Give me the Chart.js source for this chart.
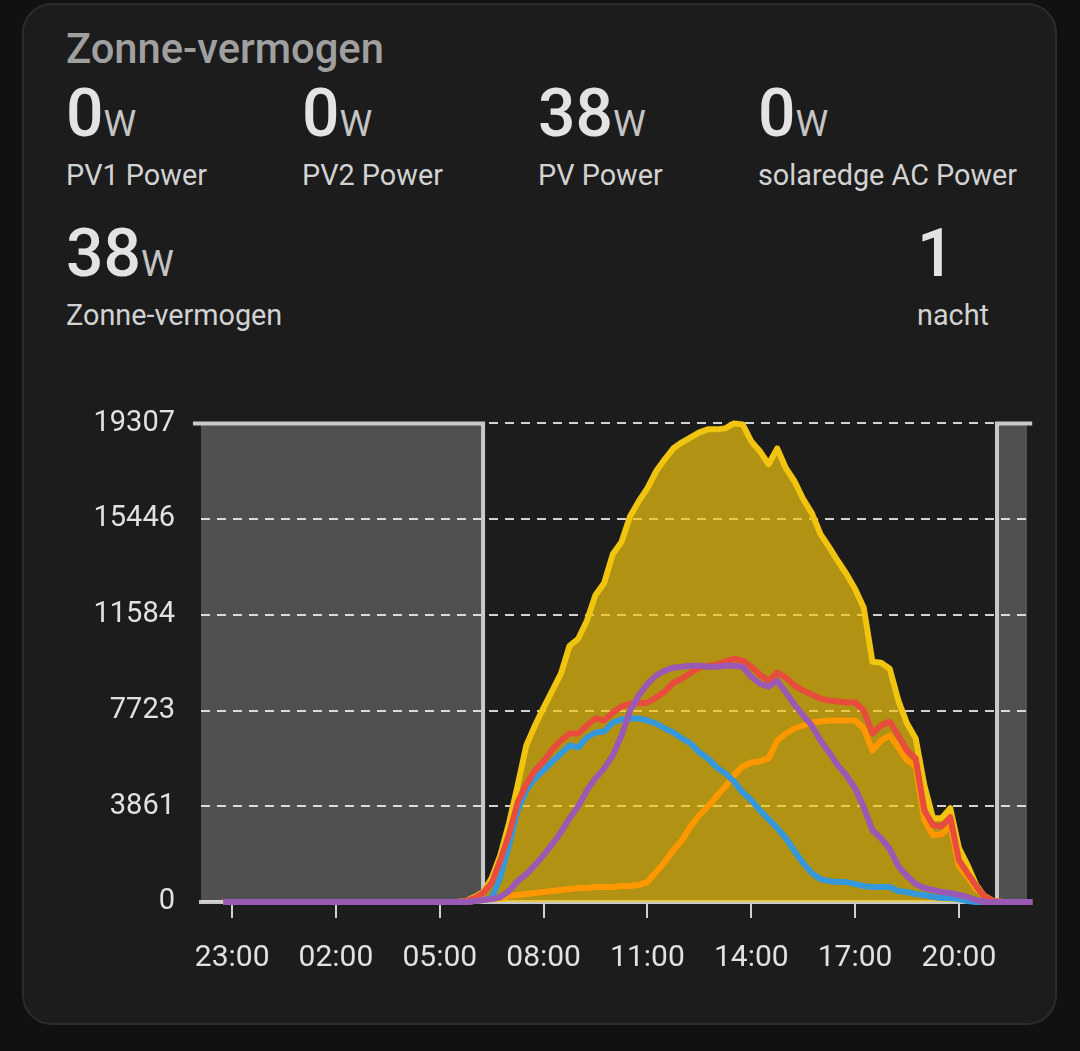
<!DOCTYPE html>
<html>
<head>
<meta charset="utf-8">
<script src="https://cdn.jsdelivr.net/npm/chart.js@4.4.1/dist/chart.umd.min.js"></script>
<style>
  html, body { margin: 0; padding: 0; background: #111111; width: 1080px; height: 1051px; overflow: hidden; font-family: Roboto, "Noto Sans", sans-serif; }
  .card { position: absolute; left: 22px; top: 3px; width: 1031px; height: 1018px; background: #1c1c1c; border: 2px solid #2c2c2c; border-radius: 30px; }
  .t { position: absolute; white-space: nowrap; line-height: 1; }
  .title { left: 66px; top: 28px; font-size: 41.7px; font-weight: 500; color: #a0a0a0; }
  .val { font-size: 66px; font-weight: 500; color: #e3e3e3; }
  .unit { font-size: 37px; font-weight: 400; color: #c4c4c4; }
  .lab { font-size: 28.8px; color: #d2d2d2; }
  #wrap { position: absolute; left: 40px; top: 380px; width: 1010px; height: 620px; }
</style>
</head>
<body>
<div class="card"></div>
<div class="t title">Zonne-vermogen</div>
<div id="states"></div>
<div id="wrap"><canvas id="c"></canvas></div>
<script>
// ---- header states ----
const stateNames  = ['PV1 Power', 'PV2 Power', 'PV Power', 'solaredge AC Power', 'Zonne-vermogen', 'nacht'];
const stateValues = ['0', '0', '38', '0', '38', '1'];
const stateUnits  = ['W', 'W', 'W', 'W', 'W', ''];

// ---- chart data ----
const axisRange = ['22:06', '21:58'];
const tickLabels = ['23:00', '02:00', '05:00', '08:00', '11:00', '14:00', '17:00', '20:00'];
const yTicks = [0, 3861, 7723, 11584, 15446, 19307];
const yMax = 19307;

const times = ['22:45',
  '05:30','05:45','06:00','06:15','06:30','06:45','07:00','07:15','07:30','07:45',
  '08:00','08:15','08:30','08:45','09:00','09:15','09:30','09:45','10:00','10:15',
  '10:30','10:45','11:00','11:15','11:30','11:45','12:00','12:15','12:30','12:45',
  '13:00','13:15','13:30','13:45','14:00','14:15','14:30','14:45','15:00','15:15',
  '15:30','15:45','16:00','16:15','16:30','16:45','17:00','17:15','17:30','17:45',
  '18:00','18:15','18:30','18:45','19:00','19:15','19:30','19:45','20:00','20:15',
  '20:30','20:45','21:00','21:15',
  '22:07'];

const zonneVermogen = [0,
  0,40,200,400,965,1890,3178,4706,6315,7119,
  7843,8527,9211,10337,10619,11343,12389,12871,14038,14520,
  15566,16170,16693,17376,17859,18301,18543,18744,18945,19066,
  19066,19106,19307,19267,18583,18181,17658,18301,17497,16974,
  16250,15687,14842,14319,13756,13233,12630,11866,9694,9654,
  9412,8125,7200,6597,4706,3379,3379,3781,2172,1488,
  684,201,40,0,
  0];

const pvPower = [0,
  0,40,160,360,764,1689,2735,4022,4746,5309,
  5671,6154,6516,6798,6798,7119,7401,7320,7642,7884,
  8004,8004,8045,8246,8487,8849,9010,9251,9452,9533,
  9573,9694,9814,9734,9493,9171,8930,9251,9050,8728,
  8527,8366,8206,8125,8085,8045,8045,7723,6798,7119,
  7280,6717,6114,5792,3700,3097,3057,3419,1689,1166,
  644,201,40,0,
  0];

const pv1Power = [0,
  0,20,40,80,160,1006,2293,3700,4505,4988,
  5309,5671,5993,6315,6235,6637,6838,6878,7240,7361,
  7401,7401,7320,7200,6999,6838,6597,6395,6033,5792,
  5430,5189,4867,4425,4103,3700,3339,2977,2574,2051,
  1569,1166,925,845,804,804,724,644,603,603,
  603,442,402,322,282,201,161,161,120,40,
  0,0,0,0,
  0];

const pv2Power = [0,
  0,0,40,80,120,161,241,282,322,362,
  402,442,483,523,563,563,603,603,603,644,
  644,684,804,1207,1609,2092,2494,3057,3499,3861,
  4264,4666,5108,5470,5631,5671,5792,6516,6798,6999,
  7119,7240,7280,7320,7320,7320,7320,6999,6114,6516,
  6717,6235,5712,5470,3298,2695,2735,3097,1448,1006,
  523,241,40,0,
  0];

const acPower = [0,
  0,0,40,80,120,201,442,845,1126,1488,
  1890,2333,2816,3379,3861,4505,4988,5390,5913,6717,
  7723,8326,8809,9131,9332,9452,9493,9533,9533,9493,
  9493,9533,9533,9493,9090,8809,8688,8929,8447,7964,
  7522,7119,6516,6033,5511,5108,4585,3821,2896,2574,
  2132,1448,1046,724,563,483,402,362,282,201,
  80,0,0,0,
  0];

const nightTimes = ['21:52', '06:15', '06:15', '21:06', '21:06', '22:07'];
const nightState = [1, 1, 0, 0, 1, 1];

// ---- header build ----
const cols = [66, 302, 538, 758, 66, 917];
const rowsTop = [81, 81, 81, 81, 221, 221];
const labTop = [161, 161, 161, 161, 301, 301];
const st = document.getElementById('states');
stateNames.forEach((n, i) => {
  const v = document.createElement('div');
  v.className = 't val';
  v.style.left = cols[i] + 'px';
  v.style.top = rowsTop[i] + 'px';
  v.innerHTML = stateValues[i] + (stateUnits[i] ? '<span class="unit">' + stateUnits[i] + '</span>' : '');
  st.appendChild(v);
  const l = document.createElement('div');
  l.className = 't lab';
  l.style.left = cols[i] + 'px';
  l.style.top = labTop[i] + 'px';
  l.textContent = n;
  st.appendChild(l);
});

// ---- time helpers (hours since 21:30 of first day, monotonic) ----
function toAxis(arr) {
  let prev = -Infinity;
  return arr.map(s => {
    const [h, m] = s.split(':').map(Number);
    let v = ((h + m / 60) - 21.5 + 24) % 24;
    while (v < prev) v += 24;
    prev = v;
    return v;
  });
}
const xs = toAxis(times);
const xr = toAxis(axisRange);
const xt = toAxis(tickLabels);
const xn = toAxis(nightTimes);
const pts = vals => xs.map((x, i) => ({ x, y: vals[i] }));

const lineDs = (label, vals, color, order, fill) => ({
  label, data: pts(vals), borderColor: color, borderWidth: 6,
  backgroundColor: fill || 'transparent', fill: fill ? 'origin' : false,
  pointRadius: 0, tension: 0, borderJoinStyle: 'round', clip: false, order
});

Chart.defaults.font.family = 'Roboto';
new Chart(document.getElementById('c'), {
  type: 'line',
  data: {
    datasets: [
      lineDs('solaredge AC Power', acPower, '#9b59b6', 1),
      lineDs('PV Power', pvPower, '#e74c3c', 2),
      lineDs('PV1 Power', pv1Power, '#3498db', 3),
      lineDs('PV2 Power', pv2Power, '#ff9800', 4),
      lineDs('Zonne-vermogen', zonneVermogen, '#f1c40f', 5, 'rgba(241,196,15,0.7)'),
      {
        label: 'nacht', data: xn.map((x, i) => ({ x, y: nightState[i] * yMax })),
        borderColor: '#c9c9c9', borderWidth: 4, backgroundColor: 'rgba(255,255,255,0.23)',
        fill: 'origin', pointRadius: 0, tension: 0, clip: false, order: 6
      }
    ]
  },
  options: {
    responsive: true, maintainAspectRatio: false, animation: false,
    layout: { padding: { top: 0, right: 23, left: 0, bottom: 0 } },
    plugins: { legend: { display: false }, tooltip: { enabled: false } },
    scales: {
      x: {
        type: 'linear', min: xr[0], max: xr[1],
        afterBuildTicks: s => { s.ticks = xt.map(v => ({ value: v })); },
        afterFit: s => { s.height = 98; },
        ticks: { autoSkip: false, maxRotation: 0, padding: 22, color: '#e1e1e1', font: { size: 30 },
                 callback: (v, i) => tickLabels[i] },
        grid: { drawOnChartArea: false, drawTicks: true, tickLength: 16, color: '#cfcfcf', lineWidth: 2 },
        border: { display: true, color: '#c8c8c8', width: 4 }
      },
      y: {
        min: 0, max: yMax,
        afterBuildTicks: s => { s.ticks = yTicks.map(v => ({ value: v })); },
        afterFit: s => { s.width = 161; },
        ticks: { padding: 26, color: '#e1e1e1', font: { size: 29 }, callback: v => String(v) },
        grid: { drawTicks: false, color: '#d2d2d2', lineWidth: 2 },
        border: { display: false, dash: [9, 7] }
      }
    }
  }
});
</script>
</body>
</html>
